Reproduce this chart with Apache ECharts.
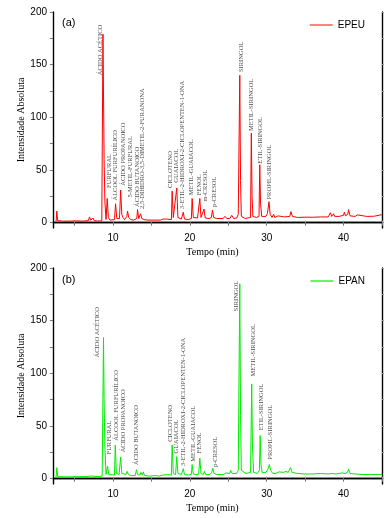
<!DOCTYPE html>
<html>
<head>
<meta charset="utf-8">
<script src="https://cdn.jsdelivr.net/npm/echarts@6/dist/echarts.min.js"></script>
<style>
  html, body { margin: 0; padding: 0; background: #fff; }
  #main { width: 386px; height: 518px; }
</style>
</head>
<body>
<div id="main"></div>
<script>
// cromatogramas: [tempo (min), intensidade]
var epeuDados = [
  [2.6, 1], [2.7, 11], [2.8, 2], [3.5, 1.5], [4.5, 1.6], [5.5, 1.8], [6.0, 1.5], [6.8, 2], [6.95, 5.5], [7.1, 2.5],
  [7.3, 2.5], [7.4, 4.5], [7.55, 2], [8.0, 1.6], [8.55, 1.8], [8.7, 179], [8.85, 60], [8.95, 20], [9.1, 3], [9.25, 23],
  [9.4, 5], [9.6, 2.5], [10.2, 3], [10.34, 18], [10.5, 4], [10.7, 5], [10.85, 4], [11.0, 31], [11.15, 8], [11.3, 5],
  [11.5, 3], [11.8, 6], [11.9, 11], [12.05, 5], [12.3, 3], [12.7, 2.5], [13.1, 4], [13.2, 12.5], [13.35, 4], [13.5, 3.5],
  [13.6, 8.5], [13.75, 4], [13.9, 5.5], [14.05, 3], [14.5, 2.5], [15.2, 2.5], [15.4, 4], [15.6, 2.5], [16.2, 2.5], [16.5, 3.5],
  [16.7, 2.5], [17.0, 3.5], [17.2, 2.5], [17.6, 3], [17.7, 30], [17.85, 5], [18.1, 3.5], [18.3, 33], [18.45, 5], [18.9, 3.5],
  [19.15, 10], [19.3, 3.5], [19.8, 3], [20.2, 4], [20.3, 23], [20.45, 5], [20.7, 4], [21.0, 4.5], [21.3, 23], [21.45, 5],
  [21.7, 4], [21.85, 13], [22.0, 4.5], [22.5, 4], [22.8, 5], [22.95, 12], [23.1, 5], [23.5, 4], [24.3, 4], [24.6, 6],
  [24.8, 4], [25.2, 4], [25.45, 7], [25.7, 4], [26.1, 4.5], [26.3, 8], [26.5, 140], [26.6, 40], [26.7, 6], [27.2, 4],
  [27.9, 5], [28.0, 85], [28.1, 25], [28.2, 6], [28.7, 5], [29.0, 6], [29.1, 55], [29.2, 18], [29.35, 6], [29.9, 6],
  [30.1, 9], [30.3, 20], [30.45, 8], [30.7, 5], [30.9, 8], [31.05, 5], [31.5, 6.5], [31.7, 5], [32.3, 5.5], [33.0, 6],
  [33.15, 10.5], [33.35, 6], [34.0, 5], [35.0, 5.3], [36.0, 5.2], [37.0, 5.5], [38.0, 5.5], [38.3, 9.5], [38.45, 6], [38.7, 8.5],
  [38.85, 6], [39.4, 6], [40.0, 7], [40.1, 10], [40.25, 6.5], [40.55, 8], [40.65, 12.4], [40.85, 6.5], [41.5, 6], [41.8, 7.5],
  [42.0, 6], [43.0, 6], [44.0, 6.2], [44.9, 7.6], [45.0, 7]
];

var epanDados = [
  [2.6, 1.5], [2.7, 10.5], [2.8, 2], [3.5, 1.8], [4.5, 1.8], [5.5, 2], [6.5, 2], [7.0, 2.5], [7.1, 3.5], [7.3, 2.5],
  [7.5, 3], [8.0, 2], [8.6, 2.5], [8.77, 134], [8.85, 75], [8.95, 30], [9.1, 4], [9.3, 12], [9.45, 4], [9.7, 3],
  [10.2, 3.5], [10.3, 32], [10.45, 5], [10.8, 4], [11.0, 20.5], [11.15, 5], [11.4, 4], [11.7, 4], [11.85, 7], [12.0, 4],
  [12.3, 3], [12.9, 3], [13.05, 8.5], [13.2, 4], [13.5, 3.5], [13.65, 6], [13.8, 3.5], [13.95, 6.5], [14.1, 3], [14.8, 2.5],
  [15.5, 3], [16.0, 2.5], [16.5, 3.5], [16.7, 2.5], [17.1, 4], [17.3, 3], [17.6, 3.5], [17.7, 32], [17.85, 5], [18.15, 4],
  [18.3, 21], [18.45, 5], [18.9, 4], [19.15, 9.5], [19.3, 4], [19.8, 3.5], [20.2, 4], [20.3, 13.5], [20.45, 4.5], [20.8, 4],
  [21.15, 4.5], [21.3, 19.5], [21.45, 5], [21.75, 4], [21.9, 7], [22.05, 4], [22.6, 4], [22.85, 6], [23.0, 10], [23.15, 5],
  [23.5, 4], [24.4, 4], [24.7, 5.5], [24.9, 4], [25.2, 5], [25.3, 8], [25.5, 5], [26.1, 5], [26.3, 8], [26.5, 185],
  [26.6, 60], [26.7, 8], [27.3, 5], [27.9, 6], [28.05, 90], [28.15, 30], [28.3, 6], [28.8, 5], [29.05, 8], [29.15, 41],
  [29.25, 14], [29.4, 6], [29.9, 6], [30.15, 9], [30.35, 13.5], [30.5, 8], [30.8, 5], [31.0, 6.5], [31.2, 5], [31.6, 6.5],
  [31.8, 5], [32.2, 6], [32.5, 7], [32.8, 6], [33.1, 10.5], [33.3, 6], [34.0, 5], [35.0, 4.5], [36.0, 4.5], [37.0, 5],
  [38.0, 4.5], [38.5, 5], [39.0, 4.5], [39.8, 5.5], [40.0, 7], [40.2, 5], [40.5, 6], [40.65, 9], [40.85, 5], [41.5, 4.5],
  [42.5, 4], [43.5, 4], [44.5, 4], [45.0, 4]
];

// rótulos dos picos: [tempo, intensidade onde começa o texto, nome]
var epeuPicos = [
  [8.34, 140, 'ÁCIDO ACÉTICO'],
  [9.52, 33, 'FURFURAL'],
  [10.34, 21, 'ÁLCOOL FURFURÍLICO'],
  [11.39, 35, 'ÁCIDO PROPANOICO'],
  [12.26, 24, '5-METIL-FURFURAL'],
  [13.14, 15, 'ÁCIDO BUTANOICO'],
  [13.8, 13, '2,5-DIHIDRO-3,5-DIMETIL-2-FURANONA'],
  [17.5, 33, 'CICLOTENO'],
  [18.3, 38, 'GUAIACOL'],
  [19.0, 13, '3-ETIL-2-HIDROXI-2-CICLOPENTEN-1-ONA'],
  [20.2, 26, 'METIL-GUAIACOL'],
  [21.3, 26, 'FENOL'],
  [22.06, 20, 'm-CRESOL'],
  [23.15, 15, 'p-CRESOL'],
  [26.64, 143, 'SIRINGOL'],
  [28.04, 87, 'METIL-SIRINGOL'],
  [29.16, 56, 'ETIL-SIRINGOL'],
  [30.34, 22, 'PROPIL-SIRINGOL']
];

var epanPicos = [
  [7.99, 115, 'ÁCIDO ACÉTICO'],
  [9.52, 23, 'FURFURAL'],
  [10.39, 36, 'ÁLCOOL FURFURÍLICO'],
  [11.39, 25, 'ÁCIDO PROPANOICO'],
  [13.05, 13, 'ÁCIDO BUTANOICO'],
  [17.5, 35, 'CICLOTENO'],
  [18.24, 24, 'GUAIACOL'],
  [19.15, 12, '3-ETIL-2-HIDROXI-2-CICLOPENTEN-1-ONA'],
  [20.4, 16, 'METIL-GUAIACOL'],
  [21.28, 24, 'FENOL'],
  [23.37, 11, 'p-CRESOL'],
  [26.0, 159, 'SIRINGOL'],
  [28.3, 97, 'METIL-SIRINGOL'],
  [29.25, 46, 'ETIL-SIRINGOL'],
  [30.47, 18, 'PROPIL-SIRINGOL']
];

var xTicks = [5, 10, 15, 20, 25, 30, 35, 40, 45];
var xLabels = [10, 20, 30, 40];
var yTicks = [0, 25, 50, 75, 100, 125, 150, 175, 200];
var yLabels = [0, 50, 100, 150, 200];

var sans = 'Liberation Sans';
var serif = 'Liberation Serif';
var axisLine = {show: true, lineStyle: {color: '#000', width: 1.4}};

function eixosX(g) {
  return [{
    type: 'value', gridIndex: g, min: 2.2, max: 45, position: 'bottom',
    axisLine: axisLine,
    axisTick: {customValues: xTicks, length: 3, lineStyle: {color: '#777'}},
    axisLabel: {customValues: xLabels, color: '#000', fontFamily: sans, fontSize: 10, margin: 5},
    splitLine: {show: false},
    name: 'Tempo (min)', nameLocation: 'middle', nameGap: 19, nameMoveOverlap: false,
    nameTextStyle: {fontFamily: serif, fontSize: 10, color: '#000', padding: [0, 10, 0, 0]}
  }, {
    type: 'value', gridIndex: g, min: 2.2, max: 45, position: 'top',
    axisLine: axisLine,
    axisTick: {customValues: xTicks, length: 2, lineStyle: {color: '#999'}},
    axisLabel: {show: false},
    splitLine: {show: false}
  }];
}

function eixosY(g) {
  return [{
    type: 'value', gridIndex: g, min: -5, max: 200, position: 'left',
    axisLine: axisLine,
    axisTick: {show: true, customValues: yTicks, length: 3, lineStyle: {color: '#777'}},
    axisLabel: {customValues: yLabels, color: '#000', fontFamily: sans, fontSize: 10, margin: 6},
    splitLine: {show: false},
    name: 'Intensidade Absoluta', nameLocation: 'middle', nameGap: 27, nameMoveOverlap: false,
    nameTextStyle: {fontFamily: serif, fontSize: 10, color: '#000'}
  }, {
    type: 'value', gridIndex: g, min: -5, max: 200, position: 'right',
    axisLine: axisLine,
    axisTick: {show: true, customValues: yTicks, length: 2, lineStyle: {color: '#999'}},
    axisLabel: {show: false},
    splitLine: {show: false}
  }];
}

function rotulos(dados, eixo) {
  return {
    type: 'scatter', xAxisIndex: eixo, yAxisIndex: eixo, silent: true,
    symbolSize: 0.1, itemStyle: {color: 'transparent'},
    label: {
      show: true, position: [0, 0], rotate: 90, align: 'left', verticalAlign: 'middle',
      fontFamily: serif, fontSize: 6.5, color: '#111',
      formatter: function (p) { return p.data[2]; }
    },
    data: dados
  };
}

var myChart = echarts.init(document.getElementById('main'));
var option = {
  animation: false,
  backgroundColor: '#fff',
  title: [
    {text: '(a)', left: 62, top: 17, padding: 0, textStyle: {fontFamily: sans, fontSize: 11, fontWeight: 'normal', color: '#000'}},
    {text: '(b)', left: 62, top: 274, padding: 0, textStyle: {fontFamily: sans, fontSize: 11, fontWeight: 'normal', color: '#000'}}
  ],
  legend: [
    {data: ['EPEU'], right: 21, top: 20, padding: 0, icon: 'rect', itemWidth: 23, itemHeight: 1.2, itemGap: 4,
      textStyle: {fontFamily: sans, fontSize: 10, color: '#000'}},
    {data: ['EPAN'], right: 21, top: 276, padding: 0, icon: 'rect', itemWidth: 23, itemHeight: 1.2, itemGap: 4,
      textStyle: {fontFamily: sans, fontSize: 10, color: '#000'}}
  ],
  grid: [
    {left: 53, right: 4, top: 12, height: 216},
    {left: 53, right: 4, top: 268, height: 216}
  ],
  xAxis: eixosX(0).concat(eixosX(1)),
  yAxis: eixosY(0).concat(eixosY(1)),
  series: [
    {
      name: 'EPEU', type: 'line', xAxisIndex: 0, yAxisIndex: 0,
      symbol: 'none', lineStyle: {color: '#ff0000', width: 1}, itemStyle: {color: '#ff3030'},
      data: epeuDados
    },
    {
      name: 'EPAN', type: 'line', xAxisIndex: 2, yAxisIndex: 2,
      symbol: 'none', lineStyle: {color: '#00ee00', width: 1}, itemStyle: {color: '#00ee00'},
      data: epanDados
    },
    rotulos(epeuPicos, 0),
    rotulos(epanPicos, 2)
  ]
};
myChart.setOption(option);
</script>
</body>
</html>
